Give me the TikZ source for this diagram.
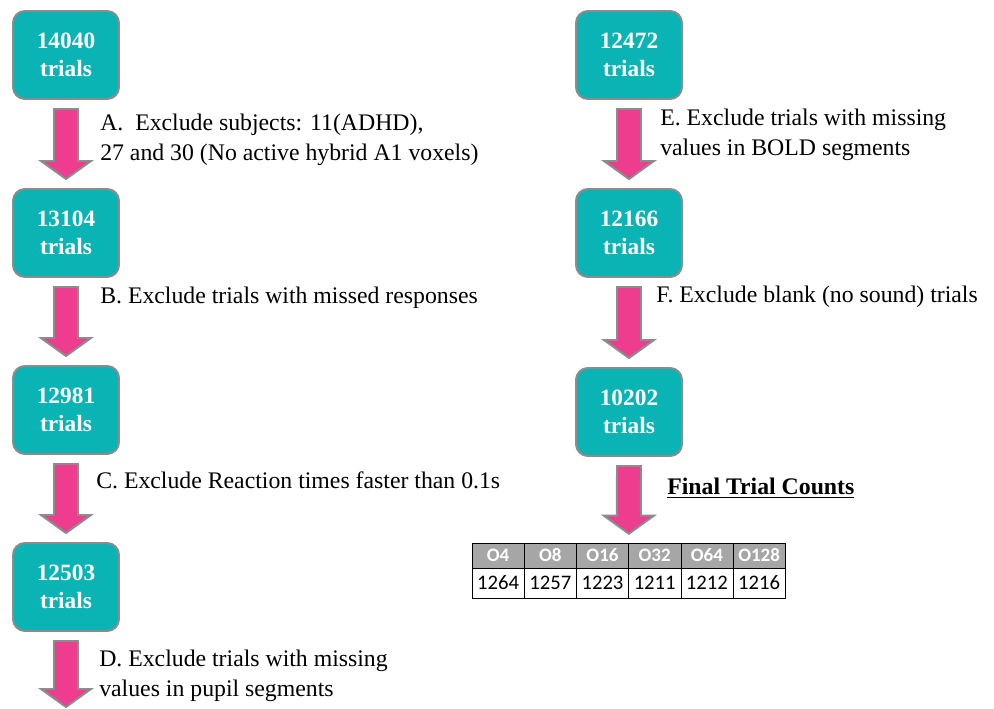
\documentclass[tikz,border=0pt]{standalone}
\usepackage{fontspec}
\setmainfont{Liberation Serif}
\newfontfamily\tablefont{Carlito}
\usetikzlibrary{calc}

% block arrow from the bottom of one node to the top of the next
\newcommand{\downArrow}[2]{%
    \draw[arrowStyle] ($(#1)+(-12,9)$) -- ($(#1)+(12,9)$) -- ($(#2)+(12,-27)$)
        -- ($(#2)+(25,-27)$) -- ($(#2)+(0,-9)$) -- ($(#2)+(-25,-27)$)
        -- ($(#2)+(-12,-27)$) -- cycle;
}

\begin{document}
\begin{tikzpicture}[x=0.025cm, y=-0.025cm,
    countBox/.style={draw=borderColour, fill=boxColour, line width=1.4pt,
        rounded corners=0.3cm, minimum width=2.65cm, minimum height=2.2cm,
        text=white, align=center, font=\fontsize{16.6}{20}\selectfont\bfseries},
    arrowStyle/.style={draw=borderColour, fill=arrowColour, line width=1.4pt},
    stepText/.style={anchor=west, inner sep=0pt, align=left,
        font=\fontsize{16.9}{21.5}\selectfont},
    headCell/.style={draw=black, fill=headColour, text=white, inner sep=0pt,
        minimum width=1.305cm, minimum height=0.625cm,
        font=\tablefont\fontsize{13.5}{14}\selectfont\bfseries},
    valueCell/.style={draw=black, fill=white, inner sep=0pt,
        minimum width=1.305cm, minimum height=0.75cm,
        font=\tablefont\fontsize{14.7}{15}\selectfont}]

    \definecolor{borderColour}{HTML}{8C8C8C}
    \definecolor{boxColour}{HTML}{0AB4B4}
    \definecolor{arrowColour}{HTML}{EE3D8F}
    \definecolor{headColour}{HTML}{A6A6A6}

    \useasboundingbox (0,0) rectangle (994,709);

    % Left column of trial counts
    \node[countBox] (l1) at (66,55) {14040\\trials};
    \node[countBox] (l2) at (66,233) {13104\\trials};
    \node[countBox] (l3) at (66,410) {12981\\trials};
    \node[countBox] (l4) at (66,587) {12503\\trials};
    \coordinate (lEnd) at (66,716);

    % Right column of trial counts
    \node[countBox] (r1) at (629,55) {12472\\trials};
    \node[countBox] (r2) at (629,233) {12166\\trials};
    \node[countBox] (r3) at (629,412) {10202\\trials};

    % Arrows between the counts
    \downArrow{l1.south}{l2.north}
    \downArrow{l2.south}{l3.north}
    \downArrow{l3.south}{l4.north}
    \downArrow{l4.south}{lEnd}
    \downArrow{r1.south}{r2.north}
    \downArrow{r2.south}{r3.north}

    % Exclusion steps
    \node[stepText] (stepA) at (100,140) {A.\ \ Exclude subjects: 11(ADHD),\\27 and 30 (No active hybrid A1 voxels)};
    \node[stepText] (stepB) at (100,298) {B. Exclude trials with missed responses};
    \node[stepText] (stepC) at (96,480) {C. Exclude Reaction times faster than 0.1s};
    \node[stepText] (stepD) at (99,676) {D. Exclude trials with missing\\values in pupil segments};
    \node[stepText] (stepE) at (660,135) {E. Exclude trials with missing\\values in BOLD segments};
    \node[stepText] (stepF) at (656,297) {F. Exclude blank (no sound) trials};

    % Final counts table
    \node[stepText, font=\fontsize{16.9}{18}\selectfont\bfseries] (final) at (667,488) {\underline{Final Trial Counts}};
    \foreach \lab/\val [count=\i] in {O4/1264, O8/1257, O16/1223, O32/1211, O64/1212, O128/1216} {
        \node[headCell] (h\i) at ({472+52.2*(\i-0.5)},555.5) {\lab};
        \node[valueCell] (v\i) at ({472+52.2*(\i-0.5)},583) {\val};
    }
    \downArrow{r3.south}{h3.north east}

\end{tikzpicture}
\end{document}
